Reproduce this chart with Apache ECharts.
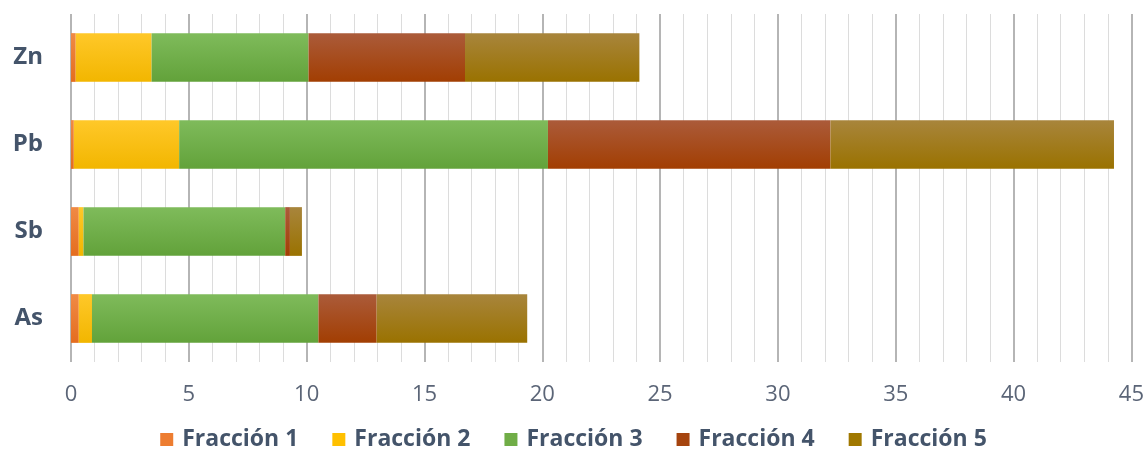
<!DOCTYPE html>
<html>
<head>
<meta charset="utf-8">
<script src="https://cdn.jsdelivr.net/npm/echarts@6/dist/echarts.min.js"></script>
<style>
  html, body { margin: 0; padding: 0; background: #ffffff; }
  #chart { width: 1147px; height: 463px; }
</style>
</head>
<body>
<div id="chart"></div>
<script>
// Elements (bottom to top on the category axis)
const elementos = ['As', 'Sb', 'Pb', 'Zn'];

// Values per fraction, in the same order as elementos
const fraccion1 = [0.33, 0.33, 0.12, 0.20];
const fraccion2 = [0.56, 0.20, 4.47, 3.22];
const fraccion3 = [9.61, 8.56, 15.65, 6.66];
const fraccion4 = [2.47, 0.20, 11.99, 6.64];
const fraccion5 = [6.39, 0.51, 12.03, 7.40];

const nombres = ['Fracción 1', 'Fracción 2', 'Fracción 3', 'Fracción 4', 'Fracción 5'];
const valores = [fraccion1, fraccion2, fraccion3, fraccion4, fraccion5];

// Base colour plus lighter top / darker bottom for the bar shading
const colores = [
  { base: '#ED7D31', top: '#f08a45', bottom: '#e46d1f' },
  { base: '#FFC000', top: '#ffc829', bottom: '#f2b600' },
  { base: '#70AD47', top: '#7fbb5b', bottom: '#62a23a' },
  { base: '#A5440E', top: '#ab5b3a', bottom: '#a23e02' },
  { base: '#A07800', top: '#a8853c', bottom: '#9a7200' }
];

const chart = echarts.init(document.getElementById('chart'), null, { renderer: 'canvas' });

const series = nombres.map((nombre, i) => ({
  name: nombre,
  type: 'bar',
  stack: 'total',
  barWidth: '56%',
  data: valores[i],
  itemStyle: {
    color: new echarts.graphic.LinearGradient(0, 0, 0, 1, [
      { offset: 0, color: colores[i].top },
      { offset: 1, color: colores[i].bottom }
    ])
  },
  emphasis: { disabled: true }
}));

chart.setOption({
  animation: false,
  backgroundColor: '#ffffff',
  grid: { left: 71, right: 14, top: 14, bottom: 101, containLabel: false },
  legend: {
    bottom: 7,
    left: 'center',
    itemWidth: 13,
    itemHeight: 13,
    itemGap: 34,
    icon: 'rect',
    textStyle: {
      fontFamily: 'Open Sans',
      fontWeight: 'bold',
      fontSize: 23,
      color: '#44546A',
      padding: [0, 0, 0, 4]
    },
    data: nombres.map((n, i) => ({ name: n, itemStyle: { color: colores[i].base } }))
  },
  xAxis: {
    type: 'value',
    min: 0,
    max: 45,
    interval: 5,
    axisLine: { show: false },
    axisTick: { show: false },
    axisLabel: {
      margin: 22,
      fontFamily: 'Open Sans',
      fontSize: 22,
      color: '#5B6577'
    },
    splitLine: { show: true, lineStyle: { color: '#9d9d9d', width: 1.5 } },
    minorTick: { show: false, splitNumber: 5 },
    minorSplitLine: { show: true, lineStyle: { color: '#dcdcdc', width: 1 } }
  },
  yAxis: {
    type: 'category',
    data: elementos,
    axisLine: { show: false },
    axisTick: { show: false },
    axisLabel: {
      margin: 28,
      fontFamily: 'Open Sans',
      fontWeight: 'bold',
      fontSize: 24,
      color: '#44546A'
    },
    splitLine: { show: false }
  },
  series: series
});
</script>
</body>
</html>
